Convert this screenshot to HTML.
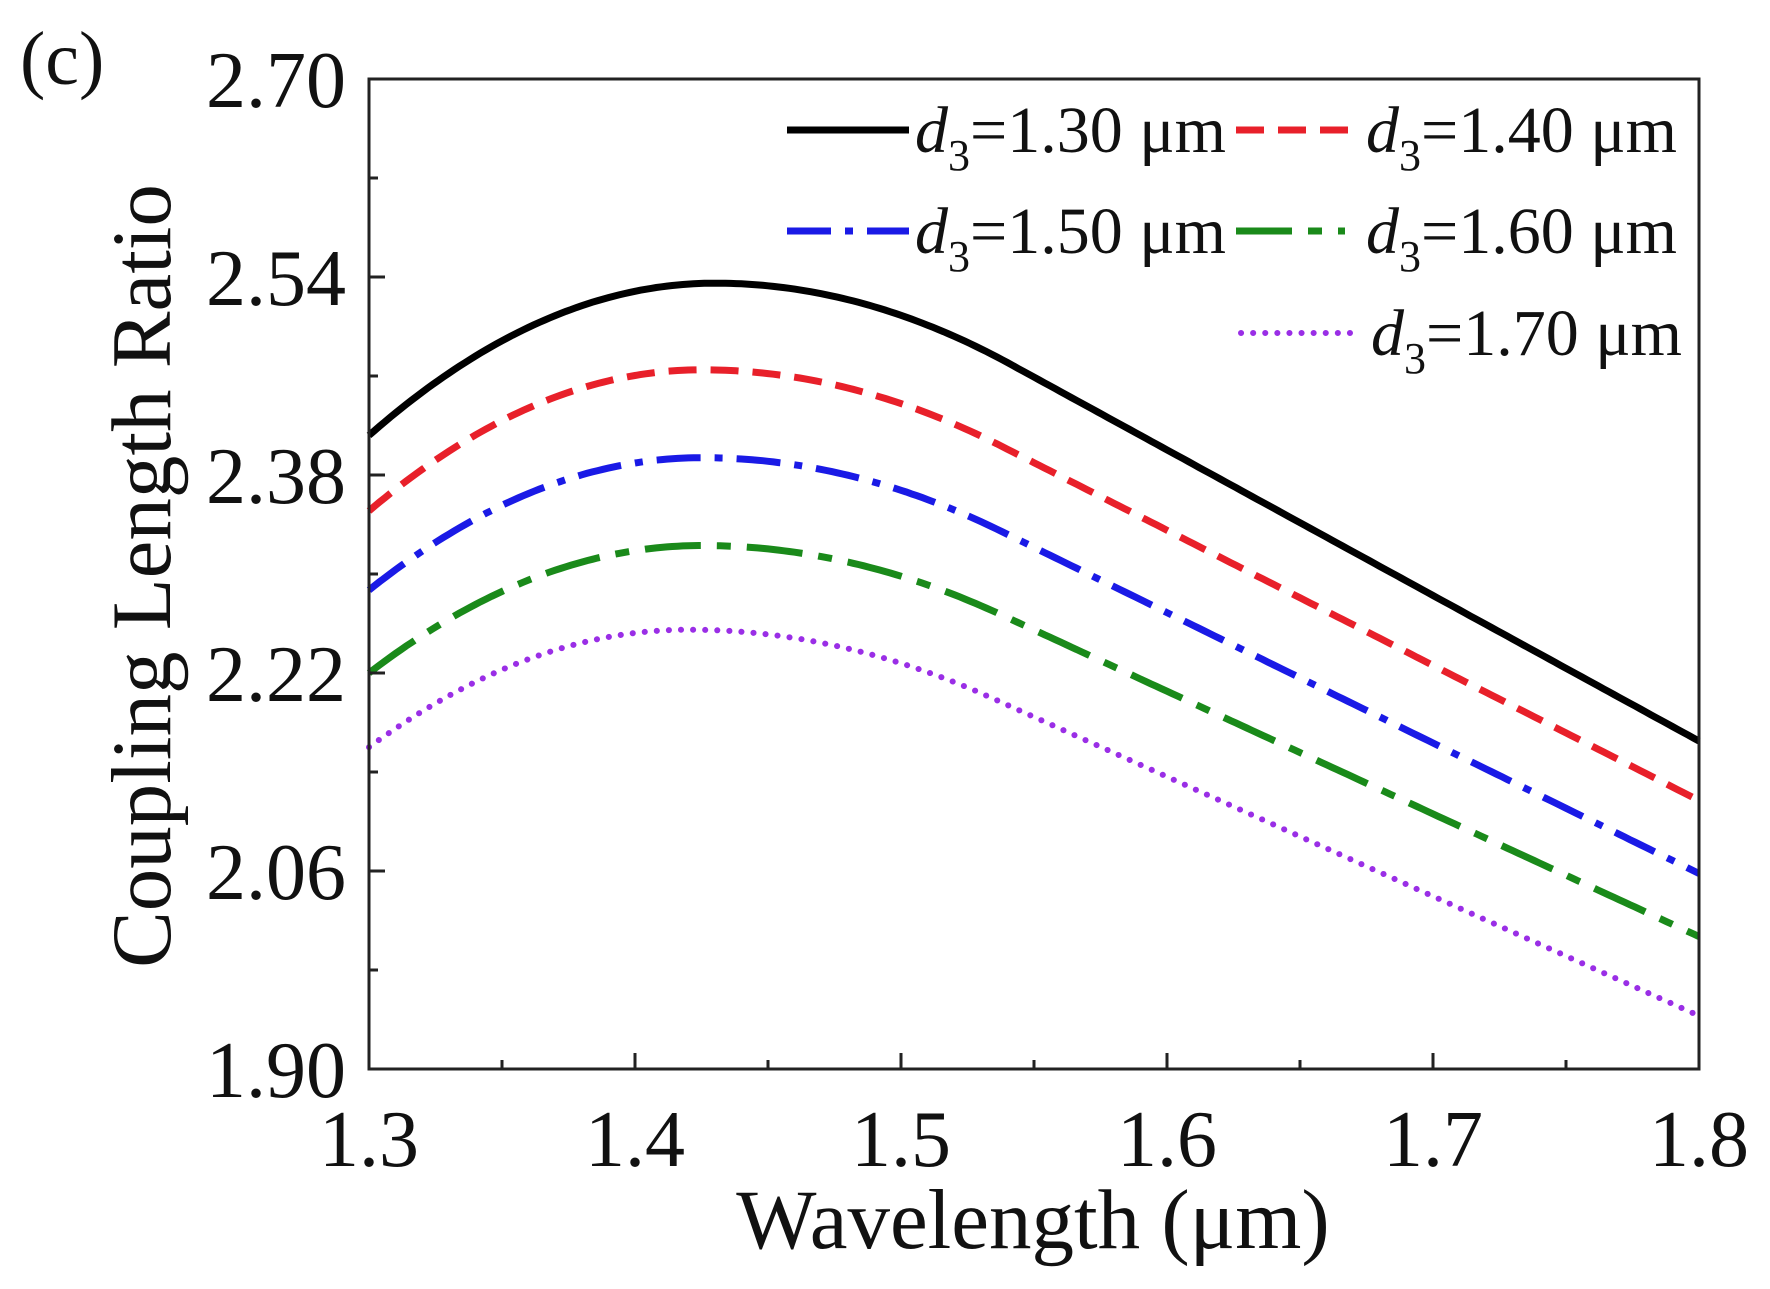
<!DOCTYPE html>
<html><head><meta charset="utf-8"><style>
html,body{margin:0;padding:0;background:#fff;}
svg text{font-family:"Liberation Serif",serif;fill:#111;}
</style></head><body>
<svg id="s" width="1770" height="1284" viewBox="0 0 1770 1284" xmlns="http://www.w3.org/2000/svg">
<rect width="1770" height="1284" fill="#fff"/>
<g id="curves" fill="none" stroke-width="7"></g>
<rect x="369" y="79" width="1330" height="990" fill="none" stroke="#222" stroke-width="3"/>
<g id="ticks" stroke="#222" stroke-width="3"></g>
<g font-size="80" text-anchor="end" id="yl"></g>
<g font-size="80" text-anchor="middle" id="xl"></g>
<text x="20" y="84" font-size="76">(c)</text>
<text x="1033" y="1248" font-size="85" text-anchor="middle">Wavelength (μm)</text>
<text transform="translate(170,576) rotate(-90)" font-size="85" text-anchor="middle">Coupling Length Ratio</text>
<g font-size="66" id="leg"></g>
</svg>
<script>
var L=369,R=1699,T=79,B=1069;
function X(x){return L+(x-1.3)/0.5*(R-L);}
function Y(y){return B-(y-1.9)/0.8*(B-T);}
var ns="http://www.w3.org/2000/svg";
function el(p,t,a,txt){var e=document.createElementNS(ns,t);for(var k in a)e.setAttribute(k,a[k]);if(txt)e.innerHTML=txt;document.getElementById(p).appendChild(e);return e;}
for(var i=0;i<=10;i++){var x=X(1.3+i*0.05),len=i%2?9:16;el('ticks','line',{x1:x,x2:x,y1:B,y2:B-len});}
for(var i=0;i<=10;i++){var y=Y(1.9+i*0.08),len=i%2?9:16;el('ticks','line',{x1:L,x2:L+len,y1:y,y2:y});}
for(var i=0;i<=5;i++){el('yl','text',{x:346,y:Y(1.9+i*0.16)+28},(1.9+i*0.16).toFixed(2));}
for(var i=0;i<=5;i++){el('xl','text',{x:X(1.3+i*0.1),y:1166},(1.3+i*0.1).toFixed(1));}
var series=[
 {s:2.412,p:2.535,e:2.165,xp:1.43,c:"#000",d:""},
 {s:2.351,p:2.465,e:2.117,xp:1.425,c:"#e8202a",d:"28 14"},
 {s:2.287,p:2.394,e:2.058,xp:1.425,c:"#1a1ae6",d:"44 14 8 14"},
 {s:2.220,p:2.323,e:2.007,xp:1.425,c:"#1a8a1a",d:"56 16 14 16"},
 {s:2.160,p:2.255,e:1.943,xp:1.42,c:"#9a2ee6",d:"0.1 12"}
];
var a0=0.3;
function sfun(t){return (t<a0? t*t/(2*a0) : t-a0/2)/(1-a0/2);}
series.forEach(function(o){var d="";for(var k=0;k<=250;k++){var x=1.3+k*0.002,y;
 if(x<=o.xp){var t=(o.xp-x)/(o.xp-1.3);y=o.s+(o.p-o.s)*(1-t*t);}
 else{var t=(x-o.xp)/(1.8-o.xp);y=o.e+(o.p-o.e)*(1-sfun(t));}
 d+=(k?"L":"M")+X(x).toFixed(1)+" "+Y(y).toFixed(1);}
 var a={d:d,stroke:o.c};if(o.d){a["stroke-dasharray"]=o.d;}if(o.d=="0.1 12"){a["stroke-linecap"]="round";a["stroke-width"]=6;}
 el('curves','path',a);});
var lg=[[787,909,130,0,915],[1236,1360,130,1,1366],[787,909,231,2,915],[1236,1345,231,3,1366],[1241,1360,333,4,1371]];
var labs=["1.30","1.40","1.50","1.60","1.70"];
lg.forEach(function(g){var o=series[g[3]];var a={x1:g[0],x2:g[1],y1:g[2],y2:g[2],stroke:o.c,"stroke-width":7};
 if(o.d)a["stroke-dasharray"]=o.d;if(o.d=="0.1 12"){a["stroke-linecap"]="round";a["stroke-width"]=6;}
 el('leg','line',a);
 el('leg','text',{x:g[4],y:g[2]+22},'<tspan font-style="italic">d</tspan><tspan font-size="44" dy="18">3</tspan><tspan dy="-18">='+labs[g[3]]+' μm</tspan>');});
</script>
</body></html>
